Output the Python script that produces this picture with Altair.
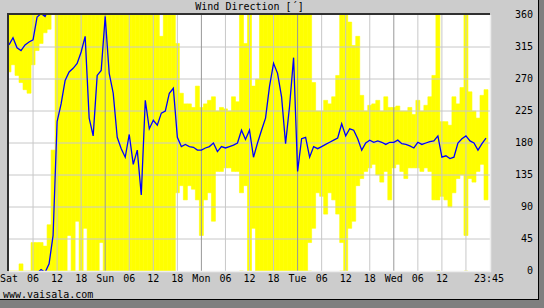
import altair as alt
import numpy as np
import pandas as pd

# ---------------- data (hourly, Sat 00:00 .. Wed 23:00) ----------------
mean_dir = [318, 328, 314, 310, 318, 322, 325, 357, 2, 358, 10, 50,
            210, 235, 268, 280, 285, 292, 308, 330, 215, 190, 275, 282,
            358, 278, 250, 188, 172, 160, 192, 150, 170, 107, 240, 200,
            212, 205, 222, 225, 250, 257, 188, 175, 178, 175, 174, 170,
            170, 173, 175, 180, 168, 175, 173, 175, 177, 180, 198, 185,
            198, 160, 180, 198, 215, 260, 292, 278, 245, 179, 232, 300,
            140, 186, 188, 160, 175, 172, 175, 178, 181, 184, 187, 207,
            190, 200, 198, 186, 170, 180, 184, 181, 183, 181, 178, 181,
            181, 184, 179, 178, 176, 173, 181, 178, 180, 182, 183, 190,
            160, 162, 158, 160, 180, 186, 190, 183, 180, 170, 179, 187]

band_lo = [280, 290, 275, 265, 255, 250, 290, 310, 320, 335, 340, 0,
           0, 0, 0, 50, 0, 70, 0, 60, 0, 0, 0, 40,
           0, 0, 0, 0, 0, 0, 0, 0, 0, 0, 0, 0,
           0, 0, 0, 0, 0, 0, 110, 120, 100, 120, 115, 100,
           50, 100, 110, 70, 140, 140, 145, 145, 140, 140, 110, 120,
           0, 60, 0, 0, 0, 0, 0, 0, 0, 0, 0, 0,
           0, 0, 0, 40, 60, 110, 105, 80, 110, 100, 80, 40,
           0, 60, 70, 120, 130, 140, 145, 150, 135, 125, 140, 100,
           145, 150, 140, 130, 145, 145, 145, 140, 145, 140, 100, 100,
           105, 100, 90, 110, 130, 135, 50, 130, 125, 140, 150, 100]

band_hi = [360, 360, 360, 10, 360, 360, 40, 40, 40, 35, 65, 170,
           360, 360, 360, 360, 360, 360, 360, 360, 360, 360, 360, 360,
           360, 360, 360, 360, 360, 360, 360, 360, 360, 360, 360, 360,
           360, 360, 330, 360, 360, 360, 320, 250, 235, 235, 230, 260,
           230, 235, 240, 245, 225, 230, 228, 225, 245, 238, 360, 320,
           360, 260, 270, 360, 360, 360, 360, 360, 360, 360, 360, 360,
           360, 360, 360, 360, 265, 225, 225, 240, 235, 245, 275, 360,
           360, 350, 317, 330, 247, 225, 233, 235, 240, 225, 245, 230,
           230, 232, 225, 225, 230, 220, 240, 225, 233, 245, 275, 360,
           210, 210, 205, 245, 235, 258, 360, 252, 225, 215, 247, 255]

tick_hours = [0, 6, 12, 18, 24, 30, 36, 42, 48, 54, 60, 66, 72, 78, 84, 90,
              96, 102, 108, 119.75]
tick_labels = ["Sat", "06", "12", "18", "Sun", "06", "12", "18", "Mon", "06",
               "12", "18", "Tue", "06", "12", "18", "Wed", "06", "12", "23:45"]
y_ticks = [0, 45, 90, 135, 180, 225, 270, 315, 360]
grid_hours = [6, 12, 18, 30, 36, 42, 54, 60, 66, 78, 84, 90, 102, 108, 114]
day_hours = [24, 48, 72, 96]
title_text = "Wind Direction [´]"
footer_text = "www.vaisala.com"

# ---------------- layout ----------------
W, H = 481, 256
FONT = "DejaVu Sans Mono"
hours = np.arange(len(mean_dir))

xs = alt.Scale(domain=[0, 120], nice=False, zero=False)
ys = alt.Scale(domain=[0, 360], nice=False, zero=False)

# band rows (wrapped ranges go through north -> shifted copies, clipped)
rows = []
for h, lo, hi in zip(hours, band_lo, band_hi):
    if hi < lo:
        hi += 360
    for k in (-360, 0):
        rows.append({"x0": h - 0.5, "x1": h + 0.5, "lo": lo + k, "hi": hi + k})
band_df = pd.DataFrame(rows)

unwrapped = np.unwrap(np.array(mean_dir, dtype=float), period=360)
lrows = []
for k in (-720, -360, 0, 360):
    for h, v in zip(hours, unwrapped):
        lrows.append({"h": h, "v": v + k, "copy": k})
line_df = pd.DataFrame(lrows)

one = pd.DataFrame({"a": [0]})

band = alt.Chart(band_df).mark_rect(
    color="#ffff00", stroke="#ffff00", strokeWidth=0.6, clip=True
).encode(
    x=alt.X("x0:Q", scale=xs, axis=None), x2="x1:Q",
    y=alt.Y("lo:Q", scale=ys, axis=None), y2="hi:Q",
)

hgrid = alt.Chart(pd.DataFrame({"v": y_ticks[1:-1]})).mark_rule(
    color="#c8c8c8", strokeWidth=1
).encode(y=alt.Y("v:Q", scale=ys, axis=None))

vgrid = alt.Chart(pd.DataFrame({"h": grid_hours})).mark_rule(
    color="#c8c8c8", strokeWidth=1
).encode(x=alt.X("h:Q", scale=xs, axis=None))

dgrid = alt.Chart(pd.DataFrame({"h": day_hours})).mark_rule(
    color="#999999", strokeWidth=1
).encode(x=alt.X("h:Q", scale=xs, axis=None))

mean_line = alt.Chart(line_df).mark_line(
    color="#0000ff", strokeWidth=1.3, clip=True
).encode(
    x=alt.X("h:Q", scale=xs, axis=None),
    y=alt.Y("v:Q", scale=ys, axis=None),
    detail="copy:N",
)

xlab = alt.Chart(pd.DataFrame({"h": tick_hours, "t": tick_labels})).mark_text(
    font=FONT, fontSize=10, baseline="top", align="center", color="#000000"
).encode(x=alt.X("h:Q", scale=xs, axis=None), y=alt.value(H + 3), text="t:N")

ylab = alt.Chart(pd.DataFrame({"v": y_ticks})).mark_text(
    font=FONT, fontSize=10, baseline="middle", align="right", color="#000000"
).encode(y=alt.Y("v:Q", scale=ys, axis=None), x=alt.value(W + 43), text="v:Q")

title = alt.Chart(pd.DataFrame({"t": [title_text]})).mark_text(
    font=FONT, fontSize=10, baseline="middle", align="center", color="#000000"
).encode(x=alt.value(W / 2), y=alt.value(-8), text="t:N")

footer = alt.Chart(pd.DataFrame({"t": [footer_text]})).mark_text(
    font=FONT, fontSize=10, baseline="middle", align="left", color="#000000"
).encode(x=alt.value(-6), y=alt.value(280), text="t:N")

# frame (dark top/left, light bottom/right)
f_left = alt.Chart(one).mark_rule(color="#303030", strokeWidth=2).encode(
    x=alt.value(-1), y=alt.value(-2), y2=alt.value(H))
f_top = alt.Chart(one).mark_rule(color="#303030", strokeWidth=2).encode(
    y=alt.value(-1), x=alt.value(-2), x2=alt.value(W))
f_right = alt.Chart(one).mark_rule(color="#eeeeee", strokeWidth=1.5).encode(
    x=alt.value(W + 0.5), y=alt.value(0), y2=alt.value(H + 1))
f_bottom = alt.Chart(one).mark_rule(color="#eeeeee", strokeWidth=1.5).encode(
    y=alt.value(H + 0.5), x=alt.value(0), x2=alt.value(W + 1))

# drop shadow strips
sh_right = alt.Chart(one).mark_rect(color="#7f7f7f").encode(
    x=alt.value(530), x2=alt.value(536), y=alt.value(-15), y2=alt.value(294))
sh_bottom = alt.Chart(one).mark_rect(color="#7f7f7f").encode(
    x=alt.value(-9), x2=alt.value(536), y=alt.value(285), y2=alt.value(294))
ln_right = alt.Chart(one).mark_rule(color="#000000", strokeWidth=1).encode(
    x=alt.value(529.5), y=alt.value(-15), y2=alt.value(285))
ln_bottom = alt.Chart(one).mark_rule(color="#000000", strokeWidth=1).encode(
    y=alt.value(284.5), x=alt.value(-9), x2=alt.value(530))

chart = alt.layer(
    band, hgrid, vgrid, dgrid, mean_line,
    f_left, f_top, f_right, f_bottom,
    xlab, ylab, title, footer,
    sh_right, sh_bottom, ln_right, ln_bottom,
).properties(
    width=W, height=H,
    padding={"left": 9, "top": 15, "right": 54, "bottom": 37},
    autosize="none",
).configure(background="#cccccc").configure_view(stroke=None, fill="#ffffff")

chart.save("out.html", embed_options={"renderer": "svg", "actions": False})
